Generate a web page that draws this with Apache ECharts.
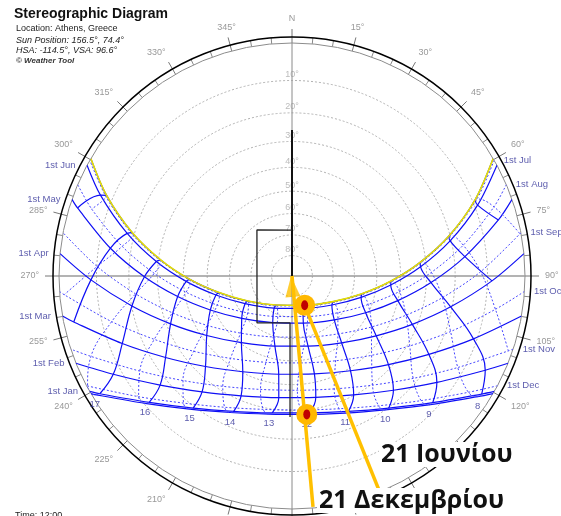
<!DOCTYPE html>
<html>
<head>
<meta charset="utf-8">
<script src="https://cdn.jsdelivr.net/npm/echarts@6/dist/echarts.min.js"></script>
<style>
  html, body { margin: 0; padding: 0; background: #fff; }
  #chart { width: 561px; height: 516px; }
</style>
</head>
<body>
<div id="chart"></div>
<script>
// clock hours sampled along every sun path
const hours = [6, 7, 8, 9, 10, 11, 12, 13, 14, 15, 16, 17, 18, 19];
// sun position [azimuth, altitude] at each clock hour, null = below horizon
const jan1 = [null, null, [121.9, 2.4], [132.0, 11.8], [143.8, 19.8], [157.4, 25.6], [172.5, 28.7], [188.2, 28.6], [203.3, 25.4], [216.8, 19.4], [228.5, 11.4], [238.5, 1.9], null, null];
const feb1 = [null, null, [116.0, 4.6], [126.3, 14.7], [138.4, 23.5], [152.6, 30.2], [168.9, 34.1], [186.2, 34.6], [203.0, 31.6], [217.8, 25.6], [230.4, 17.4], [241.2, 7.6], null, null];
const mar1 = [null, null, [109.1, 11.0], [119.8, 21.8], [132.6, 31.3], [148.3, 38.9], [167.1, 43.4], [187.7, 43.9], [207.2, 40.4], [223.7, 33.5], [237.2, 24.3], [248.3, 13.8], [258.1, 2.5], null];
const apr1 = [null, [91.4, 8.7], [101.0, 20.5], [111.9, 31.8], [125.4, 42.2], [143.4, 50.7], [167.1, 55.7], [193.7, 55.6], [217.2, 50.5], [235.1, 41.9], [248.5, 31.5], [259.4, 20.1], [268.9, 8.4], null];
const may1 = [[74.8, 4.9], [83.6, 16.5], [92.7, 28.3], [103.1, 40.0], [116.5, 51.1], [136.1, 60.7], [166.5, 66.5], [202.5, 65.6], [229.9, 58.5], [247.4, 48.4], [259.8, 37.0], [269.7, 25.3], [278.7, 13.5], [287.6, 2.0]];
const jun1 = [[69.1, 9.1], [77.5, 20.4], [85.9, 32.1], [95.2, 43.9], [107.2, 55.5], [126.0, 66.1], [161.2, 73.3], [209.2, 72.1], [239.5, 63.7], [256.0, 52.8], [267.1, 41.1], [276.1, 29.3], [284.5, 17.7], [292.9, 6.5]];
const jun21 = [[67.4, 9.2], [75.7, 20.4], [83.9, 32.1], [92.9, 43.9], [104.2, 55.6], [121.9, 66.5], [156.6, 74.4], [208.3, 73.9], [240.5, 65.4], [257.2, 54.4], [268.1, 42.6], [277.0, 30.8], [285.2, 19.2], [293.5, 8.1]];
const jul1 = [[67.4, 8.6], [75.7, 19.9], [83.9, 31.5], [93.0, 43.3], [104.3, 55.0], [121.7, 65.9], [155.4, 73.9], [206.3, 73.7], [239.2, 65.5], [256.2, 54.5], [267.4, 42.9], [276.4, 31.0], [284.6, 19.4], [293.0, 8.2]];
const aug1 = [[71.1, 5.0], [79.8, 16.5], [88.5, 28.2], [98.2, 40.0], [110.5, 51.5], [128.7, 61.7], [158.9, 68.9], [199.4, 69.1], [230.2, 62.2], [248.8, 52.0], [261.3, 40.6], [271.1, 28.8], [279.9, 17.0], [288.5, 5.6]];
const sep1 = [[79.5, 0.3], [88.7, 12.0], [98.2, 23.8], [109.0, 35.3], [122.7, 45.9], [141.6, 54.8], [167.6, 59.9], [197.1, 59.4], [222.0, 53.5], [239.8, 44.3], [252.9, 33.5], [263.5, 21.9], [272.8, 10.1], null];
const oct1 = [null, [99.3, 7.0], [109.3, 18.4], [120.7, 29.1], [134.9, 38.5], [152.8, 45.5], [174.3, 48.9], [196.8, 47.7], [216.7, 42.4], [232.6, 34.0], [245.3, 23.9], [255.8, 12.8], [265.3, 1.1], null];
const nov1 = [null, [109.1, 1.0], [118.9, 11.8], [130.2, 21.5], [143.6, 29.6], [159.5, 35.3], [177.3, 37.7], [195.5, 36.4], [212.1, 31.6], [226.2, 24.1], [238.0, 14.8], [248.2, 4.2], null, null];
const dec1 = [null, null, [123.4, 5.6], [134.0, 14.8], [146.3, 22.4], [160.5, 27.7], [176.2, 30.1], [192.2, 29.3], [207.2, 25.3], [220.5, 18.7], [231.8, 10.1], [241.7, 0.2], null, null];
const dec21 = [null, null, [123.0, 2.9], [133.3, 12.2], [145.1, 20.0], [158.8, 25.5], [173.9, 28.3], [189.5, 28.0], [204.4, 24.5], [217.6, 18.4], [229.1, 10.3], [239.0, 0.7], null, null];

const monthLabels = ['1st Jan', '1st Feb', '1st Mar', '1st Apr', '1st May', '1st Jun', '1st Jul', '1st Aug', '1st Sep', '1st Oct', '1st Nov', '1st Dec'];
const monthPaths = [jan1, feb1, mar1, apr1, may1, jun1, jul1, aug1, sep1, oct1, nov1, dec1];
// sunrise / sunset azimuths (altitude 0)
const monthRise = [119.7, 112.0, 99.9, 84.5, 70.8, 61.6, 60.2, 66.9, 79.3, 93.8, 108.3, 118.1];
const monthSet = [240.3, 248.0, 260.1, 275.5, 289.2, 298.4, 299.8, 293.1, 280.7, 266.2, 251.7, 241.9];
const jun21Rise = 59.7, jun21Set = 300.3;
const dec21Rise = 120.3, dec21Set = 239.7;

const hourLabels = [8, 9, 10, 11, 12, 13, 14, 15, 16, 17];
const altCircles = [10, 20, 30, 40, 50, 60, 70, 80];
const ringInterval = 15;

// shading outline [azimuth, altitude]
const maskStem = [[0, 25.9], [0, 90]];
const maskOutline = [[0, 67.7], [322.7, 62.1], [216.7, 61.8], [182.4, 67.2], [180.8, 27.6]];
// annotation pointers [azimuth, altitude]
const junPointer = [[157.9, -0.8], [156.6, 74.4]];
const decPointer = [[174.8, 0.3], [0, 90]];
const sunMarks = [jun21[6], dec21[6]];

const FONT = '"Liberation Sans", Arial, sans-serif';
const BLUE = '#0f0ff5', BLUE_DOT = '#4646ff', NAVY = '#333399', GOLD = '#ffc000';

// stereographic projection: altitude -> radius (horizon = 1)
function stereo(alt) {
  return Math.tan((90 - alt) / 2 * Math.PI / 180);
}
function pt(p) {
  return [stereo(p[1]), p[0]];
}
function polarLine(data, lineStyle, extra) {
  return Object.assign({
    type: 'line', coordinateSystem: 'polar', polarIndex: 1, symbol: 'none',
    clip: false, silent: true, smooth: 0.3, data: data, lineStyle: lineStyle
  }, extra || {});
}
function datePath(path, rise, set) {
  const pts = path.filter(p => p && p[1] >= 0.5);
  return [[rise, 0]].concat(pts).concat([[set, 0]]).map(pt);
}

const solidStyle = { color: BLUE, width: 1.2 };
const dotStyle = { color: BLUE_DOT, width: 1, type: [2, 2] };

const series = [];
// E-W and N-S reference lines
series.push(polarLine([[1.09, 270], [1.09, 90]], { color: '#9a9a9a', width: 1.5 }, { smooth: false }));
series.push(polarLine([[1.065, 0], [1.12, 180]], { color: '#8a8a8a', width: 1 }, { smooth: false }));

// date lines
monthPaths.forEach((path, i) => {
  series.push(polarLine(datePath(path, monthRise[i], monthSet[i]), i < 6 ? solidStyle : dotStyle));
});
series.push(polarLine(datePath(dec21, dec21Rise, dec21Set), solidStyle));
series.push(polarLine(datePath(jun21, jun21Rise, jun21Set), solidStyle));

// hour lines (analemmas)
const firstHalf = [jan1, feb1, mar1, apr1, may1, jun1, jun21];
const secondHalf = [jun21, jul1, aug1, sep1, oct1, nov1, dec1, dec21, jan1];
hours.forEach((h, i) => {
  const a = firstHalf.map(d => d[i]).filter(Boolean).map(pt);
  const b = secondHalf.map(d => d[i]).filter(Boolean).map(pt);
  if (a.length > 1) series.push(polarLine(a, solidStyle, { smooth: 0.4 }));
  if (b.length > 1) series.push(polarLine(b, dotStyle, { smooth: 0.4 }));
});

// today's path
series.push(polarLine(datePath(jun21, jun21Rise, jun21Set), { color: '#e6e000', width: 1.6 }));

// shading outline
series.push(polarLine(maskStem.map(pt), { color: '#111', width: 2 }, { smooth: false }));
series.push(polarLine(maskOutline.map(pt), { color: '#222', width: 1.3 }, { smooth: false }));

// labels
function labelScatter(data, label) {
  return {
    type: 'scatter', coordinateSystem: 'polar', polarIndex: 1, silent: true,
    symbolSize: 1, itemStyle: { color: 'rgba(0,0,0,0)' }, data: data,
    label: Object.assign({ show: true, formatter: '{b}', fontFamily: FONT }, label)
  };
}
series.push(labelScatter(altCircles.map(a => ({ name: a + '°', value: [stereo(a), 0] })),
  { position: 'top', distance: 1, color: '#aaa', fontSize: 9 }));
series.push(labelScatter(monthLabels.slice(0, 6).map((m, i) => ({ name: m, value: [1, monthSet[i]] })),
  { position: 'left', distance: 11, color: NAVY, fontSize: 9.5 }));
series.push(labelScatter(monthLabels.slice(6).map((m, i) => ({ name: m, value: [1, monthRise[i + 6]] })),
  { position: 'right', distance: 9, color: NAVY, fontSize: 9.5 }));
series.push(labelScatter(hourLabels.map(h => ({ name: String(h), value: pt(dec21[hours.indexOf(h)]) })),
  { position: 'bottom', distance: 4, color: NAVY, fontSize: 9.5 }));

// pointers and sun markers
series.push(polarLine(junPointer.map(pt), { color: GOLD, width: 3.5 }, { smooth: false }));
series.push(polarLine(decPointer.map(pt), { color: GOLD, width: 3.5 }, { smooth: false }));
series.push({
  type: 'scatter', coordinateSystem: 'polar', polarIndex: 1, silent: true,
  symbol: 'triangle', symbolSize: [15, 21], symbolOffset: [0, '50%'], symbolRotate: 5,
  itemStyle: { color: GOLD }, data: [pt(decPointer[1])]
});
series.push({
  type: 'scatter', coordinateSystem: 'polar', polarIndex: 1, silent: true, z: 5,
  symbol: 'circle', symbolSize: 21, itemStyle: { color: '#ffb800', opacity: 1 }, data: sunMarks.map(pt)
});
series.push({
  type: 'scatter', coordinateSystem: 'polar', polarIndex: 1, silent: true, z: 6,
  symbol: 'circle', symbolSize: [7, 10], itemStyle: { color: '#c00000', opacity: 1 }, data: sunMarks.map(pt)
});

const chart = echarts.init(document.getElementById('chart'));
const option = {
  animation: false,
  textStyle: { fontFamily: FONT },
  polar: [
    { center: [292, 276], radius: 239 },
    { center: [292, 276], radius: 233 }
  ],
  angleAxis: [
    {
      polarIndex: 0, type: 'value', min: 0, max: 360, startAngle: 90, clockwise: true,
      axisLine: { lineStyle: { color: '#000', width: 1.5 } },
      axisTick: { show: false }, axisLabel: { show: false }, splitLine: { show: false }
    },
    {
      polarIndex: 1, type: 'value', min: 0, max: 360, interval: ringInterval, startAngle: 90, clockwise: true,
      axisLine: { lineStyle: { color: '#8c8c8c', width: 1 } },
      axisTick: { show: true, length: 14, lineStyle: { color: '#777' } },
      minorTick: { show: true, splitNumber: 3, length: 6, lineStyle: { color: '#888' } },
      axisLabel: {
        margin: 20, color: '#999', fontSize: 9, fontFamily: FONT,
        formatter: v => (v === 0 ? 'N' : v === 360 ? '' : v + '°')
      },
      splitLine: { show: false }
    }
  ],
  radiusAxis: [
    { polarIndex: 0, type: 'value', min: 0, max: 1, show: false },
    {
      polarIndex: 1, type: 'value', min: 0, max: 1,
      axisLine: { show: false },
      axisTick: { show: false, customValues: altCircles.map(stereo) },
      axisLabel: { show: false },
      splitLine: { show: true, lineStyle: { color: '#b0b0b0', width: 1, type: [2, 2] } }
    }
  ],
  graphic: [
    { type: 'text', left: 14, top: 7, z: 100, style: { text: 'Stereographic Diagram', font: 'bold 14px ' + FONT, fill: '#111' } },
    { type: 'text', left: 16, top: 24.5, z: 100, style: { text: 'Location: Athens, Greece', font: '9px ' + FONT, fill: '#222' } },
    { type: 'text', left: 16, top: 35.5, z: 100, style: { text: 'Sun Position: 156.5°, 74.4°', font: 'italic 9px ' + FONT, fill: '#222' } },
    { type: 'text', left: 16, top: 46, z: 100, style: { text: 'HSA: -114.5°, VSA: 96.6°', font: 'italic 9px ' + FONT, fill: '#222' } },
    { type: 'text', left: 16, top: 56.5, z: 100, style: { text: '© Weather Tool', font: 'bold italic 8px ' + FONT, fill: '#333' } },
    { type: 'text', left: 15, top: 511, z: 100, style: { text: 'Time: 12:00', font: '9px ' + FONT, fill: '#222' } },
    { type: 'text', left: 379, top: 442, z: 100, style: { text: '21 Ιουνίου', font: 'bold 25px "Open Sans", sans-serif', fill: '#111', backgroundColor: '#fff', padding: [0, 2] } },
    { type: 'text', left: 317, top: 488, z: 100, style: { text: '21 Δεκεμβρίου', font: 'bold 25px "Open Sans", sans-serif', fill: '#111', backgroundColor: '#fff', padding: [0, 2] } }
  ],
  series: series
};
chart.setOption(option);
window.addEventListener('resize', function () { chart.resize(); });
</script>
</body>
</html>
